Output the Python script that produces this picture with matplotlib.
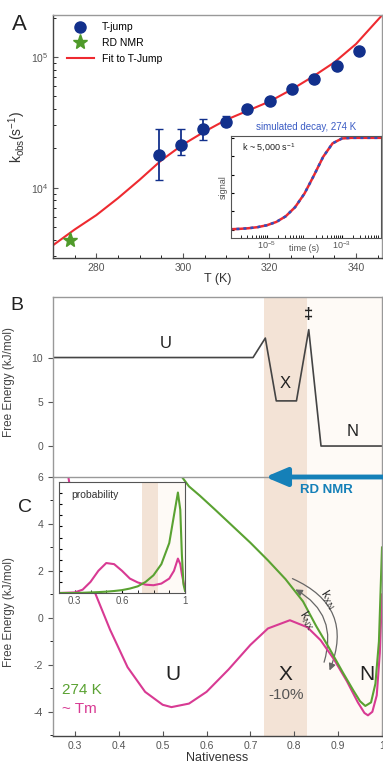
import matplotlib
matplotlib.use("Agg")
import matplotlib.pyplot as plt
import numpy as np
from matplotlib.patches import FancyArrowPatch
from matplotlib.ticker import FixedLocator, NullFormatter

plt.rcParams['font.family'] = ['Liberation Sans', 'DejaVu Sans']
plt.rcParams['mathtext.fontset'] = 'custom'
plt.rcParams['mathtext.rm'] = 'Liberation Sans'
plt.rcParams['mathtext.it'] = 'Liberation Sans'
plt.rcParams['mathtext.default'] = 'regular'
plt.rcParams['axes.unicode_minus'] = False

# ---- panel A data ----
T_jump = [294.5, 299.6, 304.6, 309.9, 314.8, 320.2, 325.2, 330.2, 335.6, 340.6]
k_jump = [17900, 21300, 28200, 32000, 39800, 45900, 57400, 67900, 86000, 112000]
k_err_lo = [11500, 17800, 23200, 29700, 39800, 45900, 57400, 67900, 86000, 112000]
k_err_hi = [28000, 28000, 33700, 35500, 39800, 45900, 57400, 67900, 86000, 112000]
T_nmr = [274]
k_nmr = [4000]
T_fit = [270, 275, 280, 285, 290, 295, 300, 305, 310, 315, 320, 325, 330, 335, 340, 346]
k_fit = [3630, 4790, 6170, 8320, 11500, 16200, 21400, 26900, 33100, 38900,
         45700, 56200, 70800, 91200, 126000, 209000]

# inset A: simulated decay
t_sim = [1e-6, 1.78e-6, 3.16e-6, 5.62e-6, 1e-5, 1.78e-5, 3.16e-5, 5.62e-5, 1e-4,
         1.78e-4, 3.16e-4, 5.62e-4, 1e-3, 1.78e-3, 3.16e-3, 5.62e-3, 1e-2, 1.2e-2]
s_sim = [0.005, 0.009, 0.016, 0.028, 0.049, 0.085, 0.146, 0.245, 0.393,
         0.589, 0.794, 0.940, 0.993, 1.0, 1.0, 1.0, 1.0, 1.0]

# ---- panel B data ----
nat_B = [0.25, 0.706, 0.734, 0.759, 0.805, 0.833, 0.861, 1.0]
G_B = [10, 10, 12.2, 5.1, 5.1, 13.15, 0, 0]

# ---- panel C data ----
nat_green = [0.544, 0.56, 0.585, 0.62, 0.66, 0.70, 0.74, 0.78, 0.82, 0.85, 0.88,
             0.91, 0.935, 0.95, 0.962, 0.975, 0.985, 0.993, 1.0]
G_green = [6.0, 5.6, 5.2, 4.6, 3.9, 3.2, 2.45, 1.65, 0.7, -0.35, -1.3,
           -2.3, -3.1, -3.55, -3.75, -3.6, -2.8, -1.0, 3.0]
nat_mag = [0.285, 0.30, 0.32, 0.346, 0.38, 0.42, 0.46, 0.50, 0.52, 0.56, 0.60, 0.65,
           0.70, 0.74, 0.79, 0.83, 0.86, 0.89, 0.92, 0.945, 0.96, 0.968, 0.978,
           0.988, 0.995, 1.0]
G_mag = [6.0, 4.3, 2.6, 1.06, -0.5, -2.1, -3.15, -3.7, -3.8, -3.65, -3.15, -2.2,
         -1.15, -0.45, -0.1, -0.4, -0.95, -1.75, -2.7, -3.6, -4.05, -4.15, -4.0,
         -3.3, -1.5, 1.0]

# inset C: probability
nat_p = [0.2, 0.3, 0.35, 0.4, 0.45, 0.5, 0.55, 0.6, 0.65, 0.7, 0.75, 0.8, 0.85,
         0.9, 0.93, 0.955, 0.97, 0.98, 0.99, 1.0]
p_green = [0, 0, 0.002, 0.005, 0.008, 0.012, 0.018, 0.026, 0.04, 0.06, 0.1, 0.16,
           0.26, 0.45, 0.7, 0.905, 0.75, 0.35, 0.08, 0.02]
p_mag = [0, 0.005, 0.03, 0.1, 0.2, 0.27, 0.26, 0.2, 0.13, 0.095, 0.075, 0.07, 0.085,
         0.13, 0.2, 0.31, 0.26, 0.17, 0.1, 0.05]

navy = '#12308c'
green_star = '#4f9a2a'
red = '#ee2a30'
green = '#5aa232'
magenta = '#d83a93'
beige = '#f3e3d6'
pale = '#fefaf6'
rdblue = '#1580b8'
grey_t = '#555555'

W, H = 383, 768
fig = plt.figure(figsize=(W / 100, H / 100), dpi=100)

def box(l, t, r, b):
    return [l / W, (H - b) / H, (r - l) / W, (b - t) / H]

def style(ax, dark=('left', 'bottom')):
    for s in ax.spines:
        ax.spines[s].set_color('#444444' if s in dark else '#999999')
        ax.spines[s].set_linewidth(1.0)
    ax.tick_params(labelsize=7.5, labelcolor=grey_t, color='#555555')

# ---------------- Panel A ----------------
axA = fig.add_axes(box(53, 15, 382, 258))
axA.set_yscale('log')
axA.plot(T_fit, k_fit, color=red, lw=1.5, label='Fit to T-Jump', zorder=2)
yerr = [np.array(k_jump) - np.array(k_err_lo), np.array(k_err_hi) - np.array(k_jump)]
axA.errorbar(T_jump, k_jump, yerr=yerr, fmt='none', ecolor=navy, elinewidth=1.3,
             capsize=3, zorder=3)
axA.plot(T_jump, k_jump, 'o', color=navy, ms=8, label='T-jump', zorder=4)
axA.plot(T_nmr, k_nmr, '*', color=green_star, ms=11, label='RD NMR', zorder=4)
axA.set_xlim(270, 346)
axA.set_ylim(2900, 2.1e5)
axA.set_xticks([280, 300, 320, 340])
axA.xaxis.set_minor_locator(FixedLocator(np.arange(270, 346, 5)))
axA.tick_params(which='both', direction='in')
style(axA)
axA.set_xlabel('T (K)', fontsize=9, color='#333333', labelpad=0)
axA.set_ylabel(r'k$_{obs}$(s$^{-1}$)', fontsize=10, color='#333333', labelpad=2)
h, l = axA.get_legend_handles_labels()
order = [1, 2, 0]
axA.legend([h[i] for i in order], [l[i] for i in order], loc='upper left',
           frameon=False, fontsize=7.5, handlelength=2.6, borderaxespad=0.3,
           labelspacing=0.55, bbox_to_anchor=(0.02, 1.0))
fig.text(12 / W, 1 - 24 / H, 'A', fontsize=16, va='center', color='#222222')

# inset A
axI = fig.add_axes(box(231, 136, 381, 238))
axI.set_xscale('log')
axI.plot(t_sim, s_sim, color=red, lw=1.8)
axI.plot(t_sim, s_sim, color='#2f4fbf', lw=1.8, ls=(0, (1.2, 1.6)))
axI.set_xlim(1.1e-6, 1.1e-2)
axI.set_ylim(-0.09, 1.02)
axI.set_xticks([1e-5, 1e-3])
axI.set_xticklabels(['$10^{-5}$', '$10^{-3}$'])
axI.set_yticks(np.arange(0, 1.01, 0.2))
axI.set_yticklabels([])
axI.tick_params(which='both', direction='in', length=2, labelsize=6.5,
                labelcolor=grey_t, pad=1)
for s in axI.spines.values():
    s.set_color('#555555')
axI.text(0.5, 1.04, 'simulated decay, 274 K', transform=axI.transAxes, ha='center',
         va='bottom', fontsize=7, color='#3b5cc4')
axI.text(0.07, 0.88, r'k ~ 5,000 s$^{-1}$', transform=axI.transAxes, fontsize=6.5,
         color='#222222', va='center')
axI.set_ylabel('signal', fontsize=6.5, color=grey_t, labelpad=1)
axI.text(0.49, -0.1, 'time (s)', transform=axI.transAxes, ha='center', va='center',
         fontsize=6.5, color=grey_t)

# ---------------- Panel B ----------------
axB = fig.add_axes(box(53, 297, 382, 477))
axB.axvspan(0.73, 0.83, color=beige, lw=0)
axB.axvspan(0.83, 1.0, color=pale, lw=0)
axB.plot(nat_B, G_B, color='#444444', lw=1.2)
axB.set_xlim(0.25, 1.0)
axB.set_ylim(-3.5, 16.84)
axB.set_yticks([0, 5, 10])
axB.set_xticks([])
style(axB, dark=())
axB.spines['bottom'].set_visible(False)
axB.set_ylabel('Free Energy (kJ/mol)', fontsize=8.5, color='#444444', labelpad=4)
axB.yaxis.set_label_coords(-0.115, 0.53)
axB.text(0.506, 11.6, 'U', fontsize=12, ha='center', va='center', color='#222222')
axB.text(0.78, 7.05, 'X', fontsize=12, ha='center', va='center', color='#222222')
axB.text(0.833, 14.9, '‡', fontsize=12, fontweight='bold', ha='center', va='center',
         color='#222222')
axB.text(0.932, 1.6, 'N', fontsize=12, ha='center', va='center', color='#222222')
fig.text(17 / W, 1 - 306 / H, 'B', fontsize=14, va='center', ha='center', color='#222222')

# ---------------- Panel C ----------------
axC = fig.add_axes(box(53, 477, 382, 736))
axC.axvspan(0.73, 0.83, color=beige, lw=0)
axC.axvspan(0.83, 1.0, color=pale, lw=0)
axC.plot(nat_mag, G_mag, color=magenta, lw=1.5)
axC.plot(nat_green, G_green, color=green, lw=1.5)
axC.set_xlim(0.25, 1.0)
axC.set_ylim(-5.03, 6)
axC.set_xticks([0.3, 0.4, 0.5, 0.6, 0.7, 0.8, 0.9, 1.0])
axC.set_xticklabels(['0.3', '0.4', '0.5', '0.6', '0.7', '0.8', '0.9', '1'])
axC.set_yticks([-4, -2, 0, 2, 4, 6])
axC.yaxis.set_minor_locator(FixedLocator([-5, -3, -1, 1, 3, 5]))
axC.tick_params(axis='x', direction='in')
style(axC, dark=('bottom',))
axC.set_xlabel('Nativeness', fontsize=9, color='#333333', labelpad=1)
axC.set_ylabel('Free Energy (kJ/mol)', fontsize=8.5, color='#444444', labelpad=4)
axC.yaxis.set_label_coords(-0.115, 0.48)
axC.text(0.524, -2.4, 'U', fontsize=15, ha='center', va='center', color='#222222')
axC.text(0.78, -2.4, 'X', fontsize=15, ha='center', va='center', color='#222222')
axC.text(0.782, -3.3, '-10%', fontsize=11, ha='center', va='center', color='#555555')
axC.text(0.965, -2.4, 'N', fontsize=15, ha='center', va='center', color='#222222')
axC.text(0.27, -3.05, '274 K', fontsize=11, ha='left', va='center', color=green)
axC.text(0.27, -3.9, '~ Tm', fontsize=11, ha='left', va='center', color=magenta)

# k arcs
a1 = FancyArrowPatch((0.79, 1.72), (0.878, -2.35), connectionstyle='arc3,rad=-0.5',
                     arrowstyle='-|>,head_length=4,head_width=2', color='#666666', lw=0.9)
a2 = FancyArrowPatch((0.866, -2.0), (0.797, 1.27), connectionstyle='arc3,rad=0.42',
                     arrowstyle='-|>,head_length=4,head_width=2', color='#666666', lw=0.9)
axC.add_patch(a1)
axC.add_patch(a2)
axC.text(0.875, 0.78, r'k$_{XN}$', fontsize=9, rotation=-58, ha='center', va='center',
         color='#333333')
axC.text(0.828, -0.12, r'k$_{NX}$', fontsize=9, rotation=-58, ha='center', va='center',
         color='#333333')

# RD NMR arrow
axC.annotate('', xy=(0.734, 6.0), xytext=(1.02, 6.0),
             arrowprops=dict(arrowstyle='-|>,head_length=1.3,head_width=0.55',
                             color=rdblue, lw=3.5, shrinkA=0, shrinkB=0),
             annotation_clip=False)
axC.text(0.874, 5.45, 'RD NMR', fontsize=9.5, fontweight='bold', color=rdblue,
         ha='center', va='center')
fig.text(25 / W, 1 - 507 / H, 'C', fontsize=14, va='center', ha='center', color='#222222')

# inset C
axP = fig.add_axes(box(59, 482, 185, 593))
axP.axvspan(0.73, 0.83, color=beige, lw=0)
axP.axvspan(0.83, 1.0, color=pale, lw=0)
axP.plot(nat_p, p_mag, color=magenta, lw=1.5)
axP.plot(nat_p, p_green, color=green, lw=1.5)
axP.set_xlim(0.2, 1.0)
axP.set_ylim(0, 1.0)
axP.set_xticks([0.3, 0.6, 1.0])
axP.set_xticklabels(['0.3', '0.6', '1'])
axP.xaxis.set_minor_locator(FixedLocator([0.4, 0.5, 0.7, 0.8, 0.9]))
axP.yaxis.set_major_locator(FixedLocator(np.arange(0.1, 1.0, 0.1)))
axP.yaxis.set_major_formatter(NullFormatter())
axP.tick_params(which='both', direction='in', length=2, labelsize=7,
                labelcolor=grey_t, pad=2)
for s in axP.spines.values():
    s.set_color('#555555')
axP.text(0.1, 0.88, 'probability', transform=axP.transAxes, fontsize=7.5,
         color='#333333', va='center')

fig.savefig('out.png', dpi=100, facecolor='white')
